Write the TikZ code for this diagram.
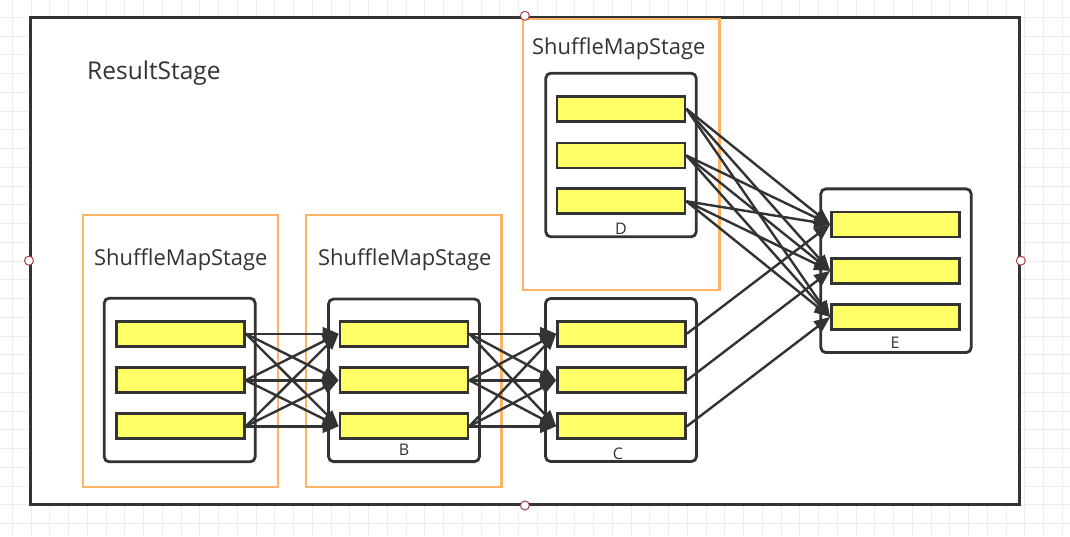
\documentclass[tikz,border=0pt]{standalone}
\usepackage{fontspec}
\setmainfont{Open Sans}
\usetikzlibrary{arrows.meta}
\definecolor{ink}{HTML}{333333}
\definecolor{orangeline}{HTML}{FFB366}
\definecolor{yel}{HTML}{FFFF66}
\definecolor{gridc}{HTML}{EDEDED}
\definecolor{handlec}{HTML}{A64444}
\begin{document}
\begin{tikzpicture}[x=1pt,y=-1pt,
  outerbox/.style={draw=ink,line width=3pt,fill=white,inner sep=0pt},
  stagebox/.style={draw=orangeline,line width=2.6pt,inner sep=0pt},
  contbox/.style={draw=ink,line width=2.8pt,fill=white,rounded corners=5pt,inner sep=0pt},
  cell/.style={draw=ink,line width=2.7pt,fill=yel,minimum width=128pt,minimum height=25pt,inner sep=0pt},
  handle/.style={circle,draw=handlec,line width=1pt,fill=white,minimum size=9pt,inner sep=0pt},
  bigtxt/.style={text=ink,inner sep=0pt,anchor=base west,font=\fontsize{24.5pt}{29pt}\selectfont},
  stagetxt/.style={text=ink,inner sep=0pt,anchor=base west,font=\fontsize{21.9pt}{26pt}\selectfont},
  lettertxt/.style={text=ink,inner sep=0pt,font=\fontsize{16pt}{19pt}\selectfont},
  arr/.style={draw=ink,line width=2.4pt,-{Triangle[length=16pt,width=13pt]}}
]
\useasboundingbox (0,0) rectangle (1070,536);
\fill[white] (0,0) rectangle (1070,536);
\foreach \i in {0,...,56} \draw[gridc,line width=1pt] ({12.25+18.75*\i},0) -- ({12.25+18.75*\i},536);
\foreach \j in {1,...,29} \draw[gridc,line width=1pt] (0,{-1.5+18.75*\j}) -- (1070,{-1.5+18.75*\j});

\node[outerbox,minimum width=988.8pt,minimum height=486.7pt] (result) at (524.9,260.65) {};
\node[bigtxt] (rslabel) at (87,79) {ResultStage};

\node[stagebox,minimum width=195pt,minimum height=272pt] (st1) at (180.5,351) {};
\node[stagebox,minimum width=195.5pt,minimum height=272pt] (st2) at (403.75,351) {};
\node[stagebox,minimum width=196.5pt,minimum height=271pt] (st3) at (621.25,154.5) {};
\node[stagetxt] (st1label) at (94,265) {ShuffleMapStage};
\node[stagetxt] (st2label) at (318,265) {ShuffleMapStage};
\node[stagetxt] (st3label) at (532,54) {ShuffleMapStage};

\node[contbox,minimum width=151pt,minimum height=163.6pt] (Abox) at (179.7,380) {};
\node[contbox,minimum width=151pt,minimum height=162.6pt] (Bbox) at (404,380.3) {};
\node[contbox,minimum width=151pt,minimum height=163pt] (Cbox) at (621,380) {};
\node[contbox,minimum width=150.4pt,minimum height=163.6pt] (Dbox) at (621,155) {};
\node[contbox,minimum width=150.4pt,minimum height=163.7pt] (Ebox) at (896,270.7) {};

\node[cell] (A1) at (180.3,333.7) {};
\node[cell] (A2) at (180.3,380.3) {};
\node[cell] (A3) at (180.3,426.3) {};
\node[cell] (B1) at (404,333.7) {};
\node[cell] (B2) at (404,380.3) {};
\node[cell] (B3) at (404,426.3) {};
\node[cell] (C1) at (621.5,333.7) {};
\node[cell] (C2) at (621.5,380.3) {};
\node[cell] (C3) at (621.5,426.3) {};
\node[cell] (D1) at (621,108.8) {};
\node[cell] (D2) at (621,155.5) {};
\node[cell] (D3) at (621,201.3) {};
\node[cell] (E1) at (895.5,224.5) {};
\node[cell] (E2) at (895.5,270.8) {};
\node[cell] (E3) at (895.5,317) {};

\node[lettertxt] (Blabel) at (404,450) {B};
\node[lettertxt] (Clabel) at (618,454) {C};
\node[lettertxt] (Dlabel) at (621,229) {D};
\node[lettertxt] (Elabel) at (895,342.5) {E};

\foreach \s in {1,2,3} {
  \foreach \t in {1,2,3} {
    \draw[arr] (A\s.east) -- (B\t.west);
    \draw[arr] (B\s.east) -- (C\t.west);
    \draw[arr] (D\s.east) -- (E\t.west);
  }
  \draw[arr] (C\s.east) -- (E\s.west);
}

\node[handle] (h1) at (result.west) {};
\node[handle] (h2) at (result.north) {};
\node[handle] (h3) at (result.east) {};
\node[handle] (h4) at (result.south) {};
\end{tikzpicture}
\end{document}
